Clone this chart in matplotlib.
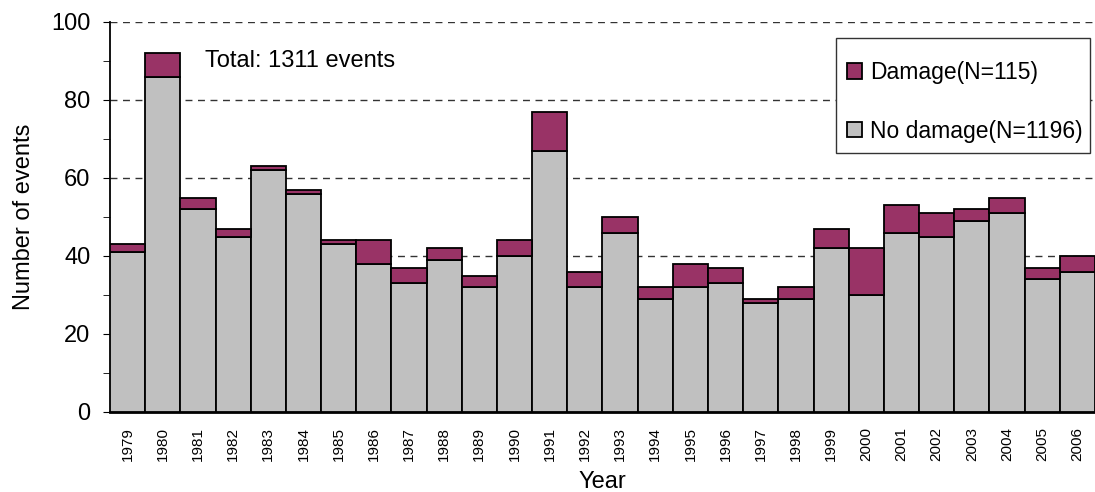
import matplotlib
matplotlib.use('Agg')
import matplotlib.pyplot as plt
from matplotlib.patches import Rectangle
import numpy as np

# data
years = list(range(1979, 2007))
no_damage = [41, 86, 52, 45, 62, 56, 43, 38, 33, 39, 32, 40, 67, 32,
             46, 29, 32, 33, 28, 29, 42, 30, 46, 45, 49, 51, 34, 36]
damage = [2, 6, 3, 2, 1, 1, 1, 6, 4, 3, 3, 4, 10, 4,
          4, 3, 6, 4, 1, 3, 5, 12, 7, 6, 3, 4, 3, 4]

plt.rcParams['font.family'] = ['Liberation Sans', 'DejaVu Sans']

W, H = 1095, 492
fig = plt.figure(figsize=(W / 100, H / 100), dpi=100)
ax = fig.add_axes([110/W, 1 - 412/H, 985/W, 390/H])

x = np.arange(len(years))
ax.bar(x, no_damage, width=1.0, color='#C0C0C0', edgecolor='black',
       linewidth=1.3, label='No damage(N=1196)', zorder=3)
ax.bar(x, damage, width=1.0, bottom=no_damage, color='#993366',
       edgecolor='black', linewidth=1.3, label='Damage(N=115)', zorder=3)

ax.set_xlim(-0.5, len(years) - 0.5)
ax.set_ylim(0, 100)
ax.set_yticks(range(0, 101, 20))
ax.set_yticks(range(10, 100, 20), minor=True)
ax.tick_params(axis='y', which='both', direction='out', length=5,
               labelsize=17, pad=9)
ax.set_xticks(x)
ax.set_xticklabels([str(y) for y in years], rotation=90, fontsize=11)
ax.tick_params(axis='x', length=0, pad=11)

for s in ['top', 'right']:
    ax.spines[s].set_visible(False)
ax.spines['left'].set_linewidth(1.3)
ax.spines['bottom'].set_linewidth(2)

for v in range(20, 101, 20):
    ax.axhline(v, color='#333333', linestyle=(0, (5, 4)), linewidth=1,
               zorder=1)

ax.set_ylabel('Number of events', fontsize=17, labelpad=12)
ax.set_xlabel('Year', fontsize=17, labelpad=7)

ax.text(2.2, 90, 'Total: 1311 events', fontsize=17, va='center')

# legend box drawn separately (text nearly touches its right edge)
frame = Rectangle((836/W, 1 - 153/H), 254/W, 115/H, transform=fig.transFigure,
                  facecolor='white', edgecolor='#333333', linewidth=1,
                  zorder=4, clip_on=False)
ax.add_patch(frame)

h, l = ax.get_legend_handles_labels()
leg = ax.legend(h[::-1], l[::-1], loc='upper left',
                bbox_to_anchor=(847/W, 1 - 61/H), bbox_transform=fig.transFigure,
                fontsize=16.5, handlelength=0.65, handleheight=0.65,
                handletextpad=0.35, labelspacing=1.55, borderpad=0,
                borderaxespad=0, frameon=False)
leg.set_zorder(5)

fig.savefig('out.png', dpi=100)
